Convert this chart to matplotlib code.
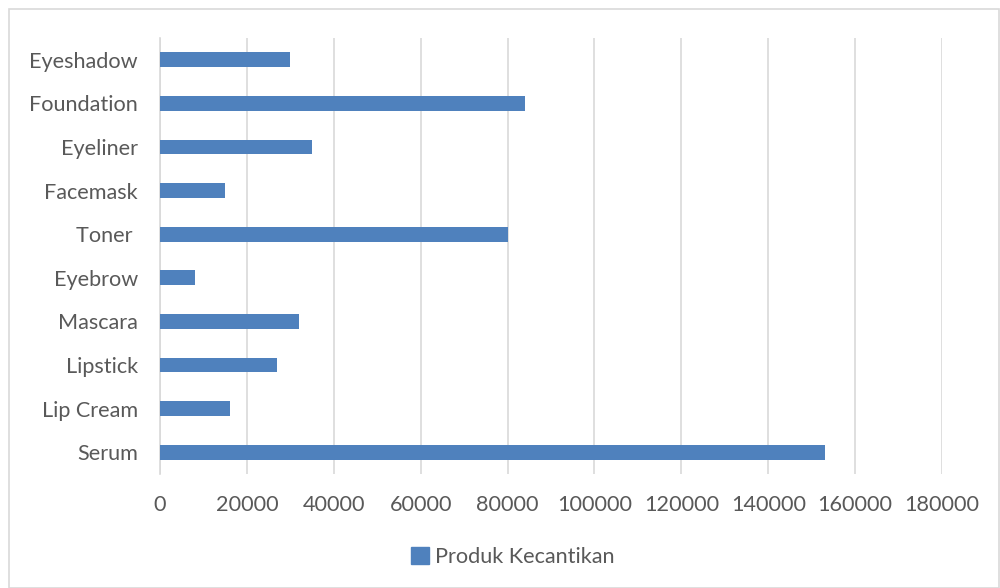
import matplotlib.pyplot as plt
from matplotlib.patches import Rectangle

categories = ['Serum', 'Lip Cream', 'Lipstick', 'Mascara', 'Eyebrow',
              'Toner ', 'Facemask', 'Eyeliner', 'Foundation', 'Eyeshadow']
values = [153000, 16000, 27000, 32000, 8000, 80000, 15000, 35000, 84000, 30000]
xticks = list(range(0, 180001, 20000))
series_name = 'Produk Kecantikan'


def main():
    plt.rcParams['font.family'] = ['Lato', 'DejaVu Sans']
    text_color = '#595959'
    bar_color = '#4f81bd'
    fs = 15.6

    fig = plt.figure(figsize=(10, 5.88), dpi=100)
    W, H = 1000, 588
    # outer chart border
    fig.patches.append(Rectangle((9 / W, 0.5 / H), (W - 10) / W, (H - 9.5) / H,
                                 transform=fig.transFigure, fill=False,
                                 edgecolor='#d9d9d9', linewidth=1.2))

    ax = fig.add_axes([160 / W, 1 - 474 / H, 782 / W, (474 - 38) / H])
    ypos = range(len(categories))
    ax.barh(ypos, values, height=0.34, color=bar_color, zorder=3)

    ax.set_xlim(0, 180000)
    ax.set_ylim(-0.5, len(categories) - 0.5)
    ax.set_xticks(xticks)
    ax.set_xticklabels([str(t) for t in xticks], fontsize=fs, color=text_color)
    ax.set_yticks(list(ypos))
    ax.set_yticklabels(categories, fontsize=fs, color=text_color)
    ax.tick_params(axis='both', length=0)
    ax.tick_params(axis='x', pad=15)
    ax.tick_params(axis='y', pad=16)

    ax.grid(axis='x', color='#d9d9d9', linewidth=1.2, zorder=0)
    for s in ['top', 'right', 'bottom']:
        ax.spines[s].set_visible(False)
    ax.spines['left'].set_color('#d9d9d9')
    ax.spines['left'].set_linewidth(1.2)

    fig.legend([Rectangle((0, 0), 1, 1, color=bar_color)], [series_name],
               loc='center', bbox_to_anchor=(513 / W, 1 - 557 / H),
               frameon=False, fontsize=fs, labelcolor=text_color,
               handlelength=0.8, handleheight=0.8, handletextpad=0.3)

    fig.savefig('out.png', dpi=100)


if __name__ == '__main__':
    main()
